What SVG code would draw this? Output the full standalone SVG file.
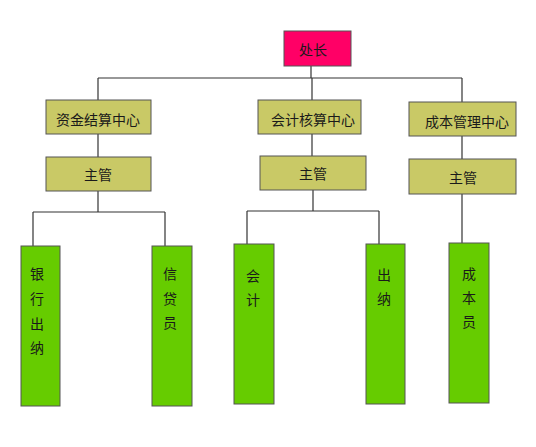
<svg xmlns="http://www.w3.org/2000/svg" width="536" height="447" viewBox="0 0 536 447">
<style>
.bx{stroke:#555;stroke-width:1}
.y{fill:#c9c966}
.g{fill:#66cc00}
.r{fill:#ff0066}
.t{font-family:"Noto Sans CJK SC","Noto Sans CJK JP",sans-serif;font-size:14px;fill:#1a1a1a;text-anchor:middle;dominant-baseline:central}
.c line{stroke:#333;stroke-width:1.2}
</style>
<rect width="536" height="447" fill="#fff"/>
<g class="c" id="connectors">
<line x1="311" y1="66" x2="311" y2="78"/>
<line x1="98" y1="78" x2="462" y2="78"/>
<line x1="98" y1="78" x2="98" y2="100"/>
<line x1="312" y1="78" x2="312" y2="100"/>
<line x1="462" y1="78" x2="462" y2="102"/>
<line x1="98" y1="134" x2="98" y2="157"/>
<line x1="312" y1="134" x2="312" y2="156"/>
<line x1="462" y1="136" x2="462" y2="159"/>
<line x1="98" y1="191" x2="98" y2="212"/>
<line x1="33" y1="212" x2="165" y2="212"/>
<line x1="33" y1="212" x2="33" y2="246"/>
<line x1="165" y1="212" x2="165" y2="246"/>
<line x1="313" y1="190" x2="313" y2="211"/>
<line x1="247" y1="211" x2="379" y2="211"/>
<line x1="247" y1="211" x2="247" y2="244"/>
<line x1="379" y1="211" x2="379" y2="244"/>
<line x1="462" y1="194" x2="462" y2="243"/>
</g>
<g id="chuzhang"><rect class="bx r" x="284" y="31" width="67" height="35"/><text class="t" x="313" y="49" font-size="15">处长</text></g>
<g id="zijin"><rect class="bx y" x="46" y="100" width="105" height="34"/><text class="t" x="98" y="119">资金结算中心</text></g>
<g id="kuaiji"><rect class="bx y" x="258" y="100" width="103" height="34"/><text class="t" x="313" y="119">会计核算中心</text></g>
<g id="chengben"><rect class="bx y" x="409" y="102" width="107" height="34"/><text class="t" x="467" y="121">成本管理中心</text></g>
<g id="zhuguan1"><rect class="bx y" x="46" y="157" width="105" height="34"/><text class="t" x="98" y="174">主管</text></g>
<g id="zhuguan2"><rect class="bx y" x="260" y="156" width="106" height="34"/><text class="t" x="313" y="173">主管</text></g>
<g id="zhuguan3"><rect class="bx y" x="409" y="159" width="107" height="35"/><text class="t" x="463" y="177">主管</text></g>
<g id="yinhang"><rect class="bx g" x="21" y="246" width="39" height="160"/><text class="t" x="37" y="273">银</text><text class="t" x="37" y="298">行</text><text class="t" x="37" y="323">出</text><text class="t" x="37" y="347">纳</text></g>
<g id="xindai"><rect class="bx g" x="152" y="246" width="40" height="160"/><text class="t" x="170" y="273">信</text><text class="t" x="170" y="298">贷</text><text class="t" x="170" y="322">员</text></g>
<g id="kj"><rect class="bx g" x="234" y="244" width="40" height="160"/><text class="t" x="253" y="275">会</text><text class="t" x="253" y="299">计</text></g>
<g id="cn"><rect class="bx g" x="366" y="244" width="39" height="160"/><text class="t" x="384" y="274">出</text><text class="t" x="384" y="298">纳</text></g>
<g id="cby"><rect class="bx g" x="449" y="243" width="40" height="160"/><text class="t" x="469" y="273">成</text><text class="t" x="469" y="297">本</text><text class="t" x="469" y="321">员</text></g>
</svg>
